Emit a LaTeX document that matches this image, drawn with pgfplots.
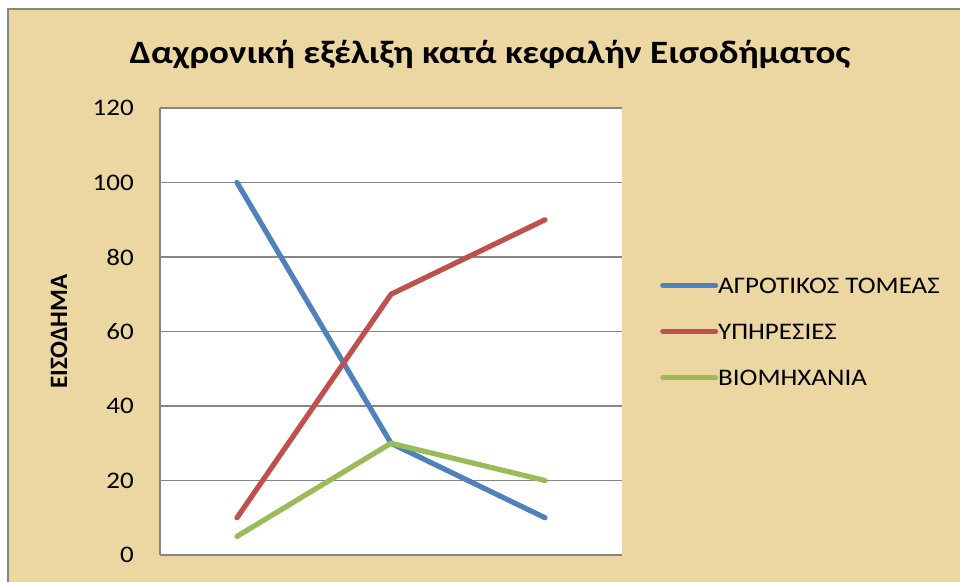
\documentclass[border=0pt]{standalone}
\usepackage{pgfplots}
\pgfplotsset{compat=1.18}
\usepackage{fontspec}
\setmainfont{Carlito}
\definecolor{papyrus}{RGB}{236,214,162}
\definecolor{frame}{RGB}{134,134,134}
\definecolor{agro}{RGB}{79,129,189}
\definecolor{ypir}{RGB}{192,80,77}
\definecolor{viom}{RGB}{155,187,89}
% text is set slightly condensed in height
\newcommand{\sq}[1]{\scalebox{1}[0.88]{#1}}
\begin{document}
\begin{tikzpicture}[x=1pt,y=1pt]
\path[use as bounding box] (0,0) rectangle (960,581);
\begin{scope}
\clip (0,0) rectangle (960,581);
\fill[white] (0,0) rectangle (960,581);
\draw[frame, line width=1.5pt, fill=papyrus] (8,-10) rectangle (975,572);
\end{scope}
\node[font=\bfseries\fontsize{37}{42}\selectfont] at (490,526) {\sq{Δαχρονική εξέλιξη κατά κεφαλήν Εισοδήματος}};
\begin{axis}[
  at={(160pt,26pt)}, anchor=south west,
  scale only axis, width=462pt, height=447pt,
  xmin=0.5, xmax=3.5, ymin=0, ymax=120,
  xtick=\empty,
  ytick={0,20,40,60,80,100,120},
  axis x line*=bottom, axis y line*=left,
  axis line style={frame, line width=1.8pt, -},
  major tick length=0pt,
  ymajorgrids, grid style={frame, line width=1.8pt},
  axis background/.style={fill=white},
  /pgf/number format/assume math mode=true,
  yticklabel={\sq{\pgfmathprintnumber{\tick}}},
  yticklabel style={font=\fontsize{27}{30}\selectfont, anchor=east, inner sep=0pt, xshift=-26pt},
  ylabel={ΕΙΣΟΔΗΜΑ},
  every axis y label/.style={at={(axis description cs:0,0.5)}, xshift=-101pt, rotate=90, anchor=center, font=\bfseries\fontsize{25}{28}\selectfont},
  legend style={at={(axis description cs:1,0.5)}, anchor=west, xshift=35pt, draw=none, fill=none,
    font=\fontsize{27}{30}\selectfont, row sep=26pt,
    nodes={inner sep=0pt, text height=18pt, text depth=2pt}},
  legend cell align=left,
  legend image code/.code={\draw[#1, line width=5pt, line cap=round] (0pt,0pt) -- (53pt,0pt);},
  every axis plot/.append style={line width=5.2pt, line cap=round, line join=round},
]
\addplot[agro] coordinates {(1,100) (2,30) (3,10)};
\addplot[ypir] coordinates {(1,10) (2,70) (3,90)};
\addplot[viom] coordinates {(1,5) (2,30) (3,20)};
\legend{\sq{ΑΓΡΟΤΙΚΟΣ ΤΟΜΕΑΣ}, \sq{ΥΠΗΡΕΣΙΕΣ}, \sq{ΒΙΟΜΗΧΑΝΙΑ}}
\end{axis}
\end{tikzpicture}
\end{document}
